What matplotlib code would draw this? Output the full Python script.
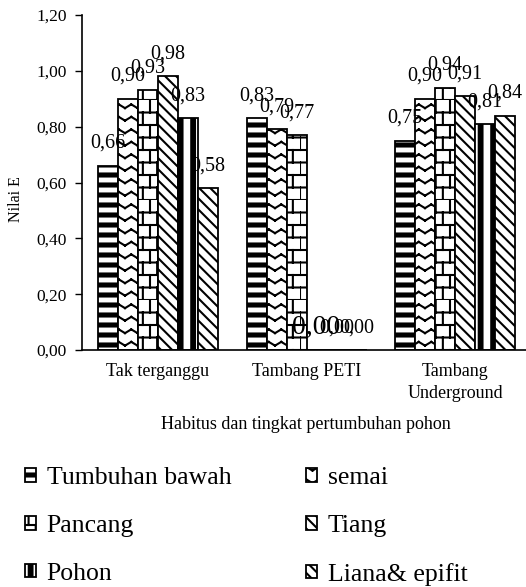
import matplotlib
matplotlib.use("Agg")
import matplotlib.pyplot as plt
import matplotlib.hatch as mhatch
from matplotlib.path import Path
import numpy as np

kategori = ["Tak terganggu", "Tambang PETI", "Tambang\nUnderground"]
habitus = ["Tumbuhan bawah", "semai", "Pancang", "Tiang", "Pohon", "Liana& epifit"]
nilai_e = [
    [0.66, 0.83, 0.75],   # Tumbuhan bawah
    [0.90, 0.79, 0.90],   # semai
    [0.93, 0.77, 0.94],   # Pancang
    [0.98, 0.00, 0.91],   # Tiang
    [0.83, 0.00, 0.81],   # Pohon
    [0.58, 0.00, 0.84],   # Liana& epifit
]
y_ticks = [0.0, 0.2, 0.4, 0.6, 0.8, 1.0, 1.2]


# extra fill patterns: thick bands, zigzag and brick
class HBands(mhatch.HatchPatternBase):
    def __init__(self, hatch, density):
        self.n = 10 if '.' in hatch else 0
        self.num_vertices = self.n * 5

    def set_vertices_and_codes(self, vertices, codes):
        step = 1.0 / self.n
        for k in range(self.n):
            y0 = k * step + step * 0.35
            y1 = y0 + step * 0.3
            vertices[k*5:k*5+5] = [(0, y0), (1, y0), (1, y1), (0, y1), (0, y0)]
            codes[k*5:k*5+5] = [Path.MOVETO, Path.LINETO, Path.LINETO,
                                Path.LINETO, Path.CLOSEPOLY]


class VBands(mhatch.HatchPatternBase):
    def __init__(self, hatch, density):
        self.n = 8 if '*' in hatch else 0
        self.num_vertices = self.n * 5

    def set_vertices_and_codes(self, vertices, codes):
        step = 1.0 / self.n
        for k in range(self.n):
            x0 = k * step + step * 0.3
            x1 = x0 + step * 0.3
            vertices[k*5:k*5+5] = [(x0, 0), (x1, 0), (x1, 1), (x0, 1), (x0, 0)]
            codes[k*5:k*5+5] = [Path.MOVETO, Path.LINETO, Path.LINETO,
                                Path.LINETO, Path.CLOSEPOLY]


class Zigzag(mhatch.HatchPatternBase):
    def __init__(self, hatch, density):
        self.rows = 8 if 'o' in hatch else 0
        self.cols = 8
        self.num_vertices = self.rows * self.cols * 4

    def set_vertices_and_codes(self, vertices, codes):
        dy = 1.0 / self.rows
        dx = 1.0 / self.cols
        i = 0
        for r in range(self.rows):
            lo = r * dy + dy * 0.35
            hi = lo + dy * 0.3
            for c in range(self.cols):
                x0 = c * dx
                vertices[i:i+4] = [(x0, lo), (x0 + dx / 2, hi),
                                   (x0 + dx / 2, hi), (x0 + dx, lo)]
                codes[i:i+4] = [Path.MOVETO, Path.LINETO, Path.MOVETO, Path.LINETO]
                i += 4


class Brick(mhatch.HatchPatternBase):
    def __init__(self, hatch, density):
        self.rows = 8 if 'O' in hatch else 0
        self.cols = 7
        self.num_vertices = self.rows * 2 + self.rows * self.cols * 2

    def set_vertices_and_codes(self, vertices, codes):
        dy = 1.0 / self.rows
        dx = 1.0 / self.cols
        i = 0
        for r in range(self.rows):
            y = r * dy
            vertices[i:i+2] = [(0, y), (1, y)]
            codes[i:i+2] = [Path.MOVETO, Path.LINETO]
            i += 2
            shift = dx / 2 if r % 2 else 0.0
            for c in range(self.cols):
                x = c * dx + shift
                vertices[i:i+2] = [(x, y), (x, y + dy)]
                codes[i:i+2] = [Path.MOVETO, Path.LINETO]
                i += 2


mhatch._hatch_types = [mhatch.HorizontalHatch, mhatch.VerticalHatch,
                       mhatch.NorthEastHatch, mhatch.SouthEastHatch,
                       HBands, VBands, Zigzag, Brick]

plt.rcParams['font.family'] = ['Liberation Serif', 'DejaVu Serif']
plt.rcParams['hatch.linewidth'] = 1.5
plt.rcParams['hatch.color'] = 'black'

pola = ['.', 'o', 'O', '\\\\\\', '*', '\\\\\\']

fig = plt.figure(figsize=(5.26, 5.87), dpi=100)
ax = fig.add_axes([82/526, 1 - 350/587, 444/526, 335/587])

x = np.arange(len(kategori))
w = 20 / 148.5
handles = []
for i, (nama, vals) in enumerate(zip(habitus, nilai_e)):
    pos = x + (i - 2.5) * w
    b = ax.bar(pos, vals, w, color='white', edgecolor='black',
               linewidth=1.3, hatch=pola[i], label=nama)
    handles.append(b)
    for px, v in zip(pos, vals):
        fs = 20 if (v == 0 and i == 3) else 14.5
        ax.annotate(f"{v:.2f}".replace('.', ','), (px, v),
                    xytext=(0, 16), textcoords='offset points',
                    ha='center', va='center', fontsize=fs)

ax.set_xlim(-76/148.5, -76/148.5 + 444/148.5)
ax.set_ylim(0, 1.2)
ax.set_yticks(y_ticks)
ax.set_yticklabels([f"{t:.2f}".replace('.', ',') for t in y_ticks], fontsize=12.5)
ax.set_xticks(x)
ax.set_xticklabels(kategori, fontsize=13, linespacing=1.45)
ax.tick_params(axis='x', length=0, pad=9)
ax.tick_params(axis='y', length=5, width=1, direction='out', pad=6)
for s in ['top', 'right']:
    ax.spines[s].set_visible(False)
for s in ['left', 'bottom']:
    ax.spines[s].set_linewidth(1.2)

ax.set_ylabel("Nilai E", fontsize=11.5)
ax.yaxis.set_label_coords(-0.13, 0.45)
ax.set_xlabel("Habitus dan tingkat pertumbuhan pohon", fontsize=13)
ax.xaxis.set_label_coords(0.505, -0.197)

urut = [0, 2, 4, 1, 3, 5]
fig.legend([handles[k] for k in urut], [habitus[k] for k in urut],
           ncol=2, loc='upper left', bbox_to_anchor=(0.047, 0.204),
           frameon=False, fontsize=18.5, handlelength=0.45, handleheight=0.45,
           handletextpad=0.4, columnspacing=2.9, labelspacing=1.0,
           borderaxespad=0, borderpad=0)

fig.savefig("out.png", dpi=100)
